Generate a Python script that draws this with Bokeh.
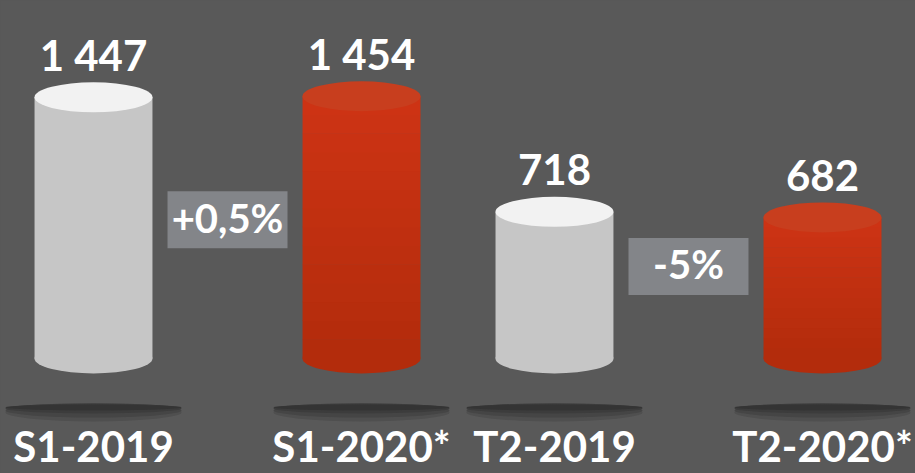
from bokeh.plotting import figure
from bokeh.models import FactorRange, Range1d
from bokeh.core.properties import value
from bokeh.embed import file_html
from bokeh.resources import INLINE

# ---------------- data ----------------
GROUPS = ["S1", "S1", "T2", "T2"]
CATEGORIES = ["S1-2019", "S1-2020*", "T2-2019", "T2-2020*"]
VALUES = [1447, 1454, 718, 682]
VALUE_LABELS = ["1 447", "1 454", "718", "682"]
CHANGES = ["+0,5%", "-5%"]
IS_CURRENT = [False, True, False, True]

# ---------------- style / layout ----------------
W, H = 915, 473
BG = "#595959"
FONT = "Lato"
Y_START, Y_END = -949, 2064
BASE = -216                      # visual floor of the cylinders
PX = (Y_END - Y_START) / H       # data units per screen pixel
GRAY_BODY, GRAY_TOP = "#c6c6c6", "#f2f2f2"
RED_LOW, RED_HIGH, RED_TOP = (0xB3, 0x2C, 0x0C), (0xCE, 0x34, 0x15), "#c83e1e"
BOX_COLOR = "#838589"
BOX_FRAC = [0.53, 0.64]

factors = list(zip(GROUPS, CATEGORIES))

p = figure(width=W, height=H, output_backend="svg", toolbar_location=None,
           x_range=FactorRange(*factors, factor_padding=1.0, group_padding=0.44,
                               range_padding=0.194, range_padding_units="absolute"),
           y_range=Range1d(Y_START, Y_END),
           x_axis_location=None, y_axis_location=None, min_border=0)
p.background_fill_color = BG
p.border_fill_color = BG
p.outline_line_color = None
p.grid.visible = False

# shadows under the cylinders
for h, col, dy in [(18, "#4f4f4f", 54), (14, "#454545", 52), (10, "#3c3c3c", 50), (6, "#343434", 49)]:
    p.ellipse(x=factors, y=[BASE - dy * PX] * 4, width=176, height=h,
              width_units="screen", height_units="screen",
              fill_color=col, line_color=None)

gray_x = [f for f, c in zip(factors, IS_CURRENT) if not c]
gray_v = [v for v, c in zip(VALUES, IS_CURRENT) if not c]
red_x = [f for f, c in zip(factors, IS_CURRENT) if c]
red_v = [v for v, c in zip(VALUES, IS_CURRENT) if c]

BAR_W = 0.88
# gray cylinders
p.ellipse(x=gray_x, y=[BASE] * len(gray_x), width=118, height=30,
          width_units="screen", height_units="screen", fill_color=GRAY_BODY, line_color=None)
p.vbar(x=gray_x, top=gray_v, bottom=BASE, width=BAR_W, fill_color=GRAY_BODY, line_color=None)
p.ellipse(x=gray_x, y=gray_v, width=118, height=30,
          width_units="screen", height_units="screen", fill_color=GRAY_TOP, line_color=None)

# red cylinders (vertical shading)
p.ellipse(x=red_x, y=[BASE] * len(red_x), width=118, height=30,
          width_units="screen", height_units="screen",
          fill_color="#%02x%02x%02x" % RED_LOW, line_color=None)
N = 14
for k in range(N):
    t = (k + 0.5) / N
    col = "#%02x%02x%02x" % tuple(int(a + (b - a) * t) for a, b in zip(RED_LOW, RED_HIGH))
    bots = [BASE + (v - BASE) * k / N for v in red_v]
    tops = [BASE + (v - BASE) * (k + 1) / N + (0.5 * PX if k < N - 1 else 0) for v in red_v]
    p.vbar(x=red_x, top=tops, bottom=bots, width=BAR_W, fill_color=col, line_color=None)
p.ellipse(x=red_x, y=red_v, width=118, height=30,
          width_units="screen", height_units="screen", fill_color=RED_TOP, line_color=None)

# value labels
p.text(x=factors, y=VALUES, text=VALUE_LABELS, y_offset=-42,
       text_align="center", text_baseline="alphabetic",
       text_font=value(FONT), text_font_style="bold", text_font_size="42px", text_color="white")

# change boxes between each pair
box_x = [(GROUPS[0], CATEGORIES[0], 1.0), (GROUPS[2], CATEGORIES[2], 1.0)]
pair_mean = [(VALUES[0] + VALUES[1]) / 2, (VALUES[2] + VALUES[3]) / 2]
box_y = [BASE + f * (m - BASE) for f, m in zip(BOX_FRAC, pair_mean)]
p.rect(x=box_x, y=box_y, width=120, height=57, width_units="screen", height_units="screen",
       fill_color=BOX_COLOR, line_color=None)
p.text(x=box_x, y=box_y, text=CHANGES, y_offset=-2,
       text_align="center", text_baseline="middle",
       text_font=value(FONT), text_font_style="bold", text_font_size="40px", text_color="white")

# category labels
p.text(x=factors, y=[BASE] * 4, text=CATEGORIES, y_offset=88,
       text_align="center", text_baseline="alphabetic",
       text_font=value(FONT), text_font_style="bold", text_font_size="42px", text_color="white")

html = file_html(p, INLINE)
html = html.replace("</head>", "<style>html,body{margin:0;padding:0;background:%s;overflow:hidden}</style></head>" % BG, 1)
open("out.html", "w").write(html)
